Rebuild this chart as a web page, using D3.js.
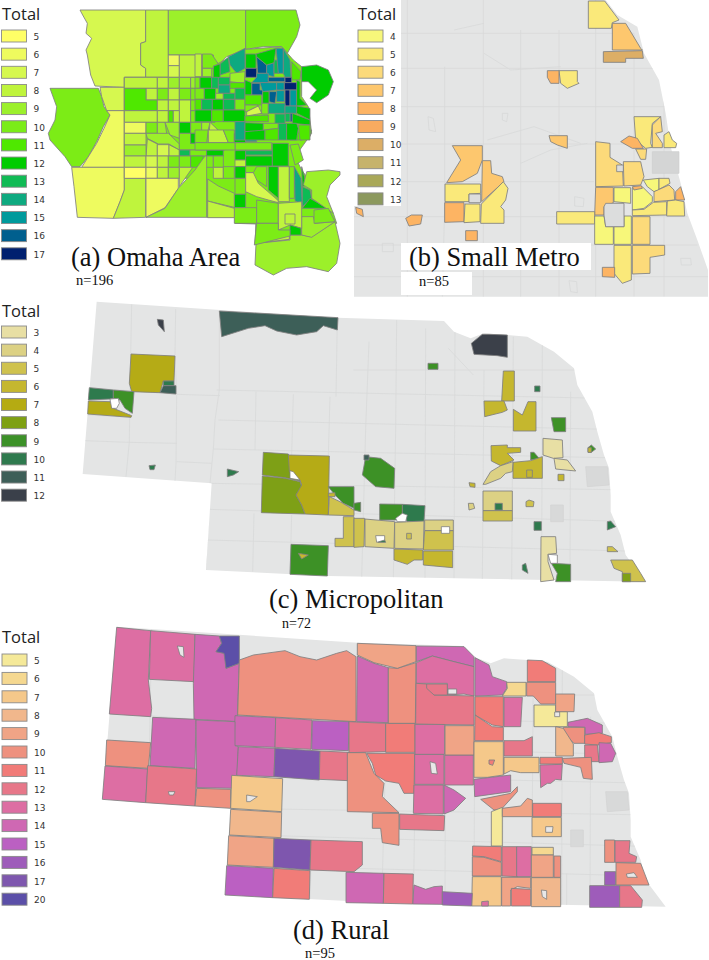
<!DOCTYPE html>
<html><head><meta charset="utf-8">
<script src="https://cdn.jsdelivr.net/npm/d3@7/dist/d3.min.js"></script>
<style>html,body{margin:0;padding:0;background:#fff}svg{display:block}</style>
</head><body><svg id="c" width="709" height="960"></svg>
<script>
// ---------- legend values and colours ----------
const omahaValues=[5,6,7,8,9,10,11,12,13,14,15,16,17];
const omahaColors=["#ffff66","#eefb5e","#d6f84f","#bff43c","#9cf02c","#7bec18","#4fe800","#00cc00","#10bb55","#0eaa80","#009a9c","#005f8e","#00206f"];
const metroValues=[4,5,6,7,8,9,10,11,12,13];
const metroColors=["#f7f77a","#fae97a","#fcda7a","#fdc76e","#fdb464","#f8ab60","#dcae66","#c6b36c","#a9a858","#8c995e"];
const microValues=[3,4,5,6,7,8,9,10,11,12];
const microColors=["#e8dfa4","#dcd184","#cfc24e","#c5b72f","#b5ab12","#7ea012","#3c9128","#2f7a4e","#3e5f58","#3a404a"];
const ruralValues=[5,6,7,8,9,10,11,12,13,14,15,16,17,20];
const ruralColors=["#f5e999","#f5d890","#f5c88a","#f1b78c","#f0a486","#ee917f","#f17b78","#e77789","#dd6ea3","#cf68b3","#bb60c2","#9e5cba","#7e57ae","#5b4fa8"];

// ---------- region tables: [value, outline]; two points mean a box ----------
const omahaOuter=[
[7,"240,30 437,30 437,125 422,130 422,195 437,205 437,232 373,232 373,262 285,258 272,225 262,165 258,150 275,115 258,100 262,70 248,45"],
[8,"437,30 505,30 505,232 437,232 437,205 422,195 422,130 437,125"],
[9,"505,30 737,30 737,148 680,170 655,195 640,200 605,165 505,165"],
[10,"737,30 888,30 900,75 890,110 862,160 845,140 790,140 737,148"],
[10,"150,265 295,265 305,290 312,320 330,345 310,380 290,425 265,470 240,500 215,500 195,470 150,420 145,400 165,360 170,320"],
[7,"300,262 373,262 373,332 320,332 305,290"],
[6,"320,332 373,332 373,502 245,502 290,430 312,385 330,345"],
[6,"215,502 373,502 373,570 360,605 340,655 232,652 222,560"],
[8,"373,535 437,535 437,652 340,655 360,605 373,570"],
[10,"373,232 605,232 605,165 655,190 737,148 845,140 880,180 905,200 905,290 925,320 935,400 885,470 905,510 1000,640 1010,670 935,710 905,705 870,705 868,718 768,730 768,672 705,670 705,652 620,652 620,535 373,535"],
[6,"505,165 538,197"],[7,"505,197 538,232"],[8,"538,165 605,232"],[9,"605,165 640,200"],
[12,"905,200 950,195 985,210 1000,245 985,285 950,308 930,295 950,270 925,245 905,245"],
[9,"768,730 870,720 870,705 905,705 935,710 1005,665 1020,730 1010,790 985,815 920,800 860,805 820,825 765,795"],
[8,"768,672 840,660 840,690 868,695 868,718 765,730"],
[9,"905,650 940,650 945,670 1005,665 935,712 905,705"]];
const omahaWest=[
[8,"28,22 127,55"],[8,"93,55 127,90"],[11,"28,55 93,55 93,90 127,90 127,122 28,122"],
[8,"127,22 160,55"],[9,"160,22 193,55"],[9,"193,22 227,55"],[9,"227,22 255,55"],
[10,"127,55 160,90"],[8,"160,55 193,90"],[10,"193,55 227,90"],[10,"227,55 265,90"],
[8,"127,90 160,122"],[8,"160,90 193,122"],[8,"193,90 227,157"],[10,"227,90 260,122"],[13,"260,90 290,122"],[12,"290,90 325,122"],
[8,"28,122 127,157"],[8,"127,122 160,157"],[11,"160,122 175,157"],[8,"175,122 193,157"],[10,"227,122 260,157"],[10,"260,122 300,157"],
[6,"28,157 93,190"],[10,"93,157 127,190"],[9,"127,157 150,157 155,190 127,195"],[9,"150,157 193,157 193,205 165,195"],[12,"193,157 227,190"],[10,"227,157 260,190"],
[9,"260,157 285,157 270,220 260,220"],[8,"285,157 330,200 330,220 280,220"],
[8,"28,190 93,225"],[9,"93,190 160,190 193,222 193,240 162,222 130,222 97,205"],
[8,"97,207 127,222 127,258 93,258"],[7,"127,224 162,224 162,258 127,258"],[8,"162,224 193,240 193,258 162,258"],
[10,"193,190 227,190 227,220 260,220 260,240 193,240"],[12,"227,190 260,220"],[9,"260,220 330,220 330,240 260,240"],
[9,"28,225 93,258"],[13,"193,240 225,258"],[10,"225,240 275,258"],[12,"275,240 325,258"],
[8,"28,258 93,292"],[7,"93,258 127,292"],[8,"127,258 160,292"],[10,"160,258 193,292"],[10,"193,258 227,292"],[11,"227,258 265,292"],[10,"275,258 295,258 295,292 262,292"],[10,"295,258 325,292"],
[5,"28,292 93,325"],[6,"93,292 127,325"],[8,"127,292 160,325"],[9,"160,292 193,325"],[8,"193,292 233,292 193,350"],[8,"295,292 325,325"],
[6,"93,325 190,325 190,355 150,413 93,442"],
[9,"93,442 150,415 190,355 240,300 270,258 275,258 275,442"]];
const omahaSouth=[
[10,"0,0 40,0 35,38 0,38"],[8,"40,0 85,0 100,38 40,38"],[10,"85,0 118,0 118,38 100,38"],[12,"118,10 152,38"],[14,"152,0 185,35"],
[10,"120,38 230,60"],[10,"0,38 120,60"],[12,"120,62 152,90"],[13,"152,62 232,75"],[12,"152,78 232,108"],[12,"232,40 280,108"],
[11,"285,10 350,0 345,20 320,30 285,30"],[10,"285,45 310,42 325,90 300,105"],
[8,"120,90 152,110"],[12,"120,110 152,145"],[10,"85,110 118,145"],[10,"120,145 152,193"],[12,"118,193 152,233"],[10,"118,233 185,280"],
[10,"185,110 215,110 215,170 152,128 175,128"],[7,"152,128 175,128 190,160 250,212 250,218 220,210 185,200 152,185"],
[12,"220,110 250,110 250,205 220,180"],[8,"250,110 283,215"],[10,"283,110 298,110 298,205 283,205"],[14,"298,110 318,145 322,225 300,212"],
[12,"320,110 335,165 322,170"],[13,"322,170 345,180 350,205 322,230"],[12,"345,205 397,235 322,235"],
[9,"335,125 400,120 435,125 435,135 405,165 395,200 415,250 350,205 350,180 325,165"],[10,"357,240 400,235 420,275 357,280"],
[9,"38,147 70,168 118,190 118,232 38,213"],[8,"38,213 118,235 118,263 38,263"],[10,"185,210 250,220 250,280 185,280"],
[8,"250,220 320,215 320,295 285,285 250,300"],[8,"270,252 300,252 300,282 270,282"],[12,"285,285 318,295 318,315 285,315"],
[10,"185,280 250,280 250,300 285,300 285,318 178,345"]];
const omahaCore=[
[14,"100,50 150,25 150,85 125,100 105,75"],[13,"75,72 100,52 105,95 75,105"],[12,"55,78 75,72 75,125 55,125"],
[10,"22,42 50,42 70,72 55,78 55,85 22,85"],[9,"22,85 50,110"],[8,"0,42 20,110"],
[10,"0,112 15,145"],[12,"15,112 50,145"],[13,"50,112 70,145"],[13,"70,112 105,135"],[14,"70,135 105,160"],[9,"105,100 150,95 148,130 105,125"],[11,"105,128 150,145"],
[10,"0,145 28,178"],[12,"28,145 62,178"],[9,"62,160 85,178"],[13,"85,160 120,178"],[13,"120,145 150,178"],
[11,"0,178 20,210"],[13,"20,178 52,210"],[12,"52,178 85,210"],[13,"85,178 120,210"],[10,"120,178 150,210"],
[12,"0,210 50,245"],[11,"50,210 85,245"],[12,"85,210 150,245"],
[12,"152,42 183,85"],[17,"152,85 185,112"],[16,"185,50 215,75 215,100 188,100"],[15,"215,75 237,68 237,110 215,105"],[13,"237,60 250,100"],[15,"243,25 265,25 265,100 250,100"],
[12,"183,42 243,25 237,68 215,75 185,50"],[14,"265,25 285,60 288,112 270,112 265,100"],[11,"290,65 318,95 315,120 290,120"],
[15,"185,100 220,100 220,128 170,128 185,112"],[16,"220,112 270,125"],[17,"270,112 290,128"],
[16,"170,130 195,130 195,150 203,150 203,165 170,165"],[15,"195,128 245,128 245,150 203,155"],[15,"245,128 268,150"],
[17,"268,128 310,150"],[17,"270,150 285,198"],[15,"285,150 305,198"],[12,"305,120 315,125 315,175 335,195 305,198"],
[16,"222,155 245,155 240,190 222,185"],[15,"245,152 268,185"],[12,"203,155 222,190"],
[12,"150,120 170,128 170,165 150,165"],[11,"150,165 200,195"],[10,"150,195 185,195 190,198 155,215 150,215"],[7,"155,215 190,198 200,220 155,228"],
[10,"200,190 220,222"],[14,"220,190 270,220"],[14,"270,198 305,220"],[12,"305,198 345,205 345,240 305,220"],
[16,"285,220 292,245"],[11,"150,228 220,225 220,245 150,245"],[13,"270,220 285,245"],[13,"240,222 270,250"],[12,"292,220 345,240 345,255 292,250"],
[14,"120,245 150,300"],[12,"150,248 205,250 205,275 150,275"],[10,"205,250 250,250 250,265 205,270"],[13,"250,250 275,300"],[12,"275,250 305,250 310,265 305,300 275,300"],[11,"310,255 345,255 345,300 315,300"],
[12,"150,275 210,270 210,300 150,300"],[11,"210,270 250,265 250,300 210,300"]];

const metroRegions=[
[5,"703,3 752,3 795,60 775,68 772,85 703,85"],[7,"775,70 815,70 860,145 865,150 775,150"],[10,"748,155 865,152 868,175 815,175 815,187 748,187"],
[5,"615,212 670,212 670,245 675,250 640,265 620,250"],[8,"580,212 615,212 615,250 590,250 580,232"],[7,"585,407 640,407 640,445 610,435 590,425"],
[7,"295,437 385,437 385,480 370,520 325,545 278,548 320,480"],[7,"385,482 410,482 413,520 445,530 450,545 383,605"],
[5,"273,552 380,552 380,580 345,582 345,605 273,605"],[8,"272,608 330,608 330,665 272,667"],[5,"333,612 378,612 378,665 330,668"],
[5,"382,612 448,545 462,565 455,600 440,620 450,630 450,670 380,670"],[8,"155,655 172,645 205,645 200,672 165,678"],[8,"335,692 370,722"],[8,"5,622 25,628 28,650 8,640"],
[6,"725,425 768,430 768,472 805,495 808,558 725,560"],[6,"808,485 860,485 870,530 860,555 810,558"],
[7,"725,562 778,562 778,608 750,620 750,645 722,645"],[4,"780,563 830,563 830,610 780,605"],
[4,"835,563 865,560 895,590 895,605 870,625 835,630"],[4,"868,540 915,535 915,570 900,575 880,560"],[5,"915,535 945,535 948,550 915,568"],
[6,"900,575 945,555 960,570 962,600 900,605"],[8,"965,575 980,560 992,600 965,600"],[5,"835,630 870,628 898,607 938,605 938,645 835,647"],[5,"940,603 965,600 990,605 992,648 938,648"],
[5,"608,635 722,672"],[4,"722,648 750,648 755,680 778,680 778,733 722,733"],[4,"780,680 810,680 810,648 832,648 832,733 780,733"],[6,"835,650 888,650 888,733 835,733"],
[5,"780,736 832,736 832,840 805,850 780,820"],[6,"835,736 932,736 932,765 888,772 888,820 835,822"],[8,"745,802 782,802 782,832 745,830"],
[5,"840,350 920,350 895,370 890,430 895,442 875,445 845,420"],[6,"895,375 920,350 925,395 905,400 925,430 925,443 895,443"],[5,"930,405 945,395 955,420 968,430 965,443 930,443"],
[8,"800,425 825,408 850,415 868,445 835,445"],[6,"845,447 878,447 875,478 860,478"],[8,"835,560 862,557 865,565 840,570"]];
const metroHoles=["755,610 810,610 810,648 810,680 755,680 750,645 750,620","788,495 808,495 808,515 788,515","345,582 380,582 380,608 345,608"];

const microWest=[
[11,"658,48 1014,68 1012,105 970,92 950,110 890,120 830,108 795,92 745,100 665,125"],[12,"472,73 490,75 493,110 484,100 475,90"],
[7,"393,177 525,183 522,258 490,258 480,293 395,290 388,265"],[10,"490,258 522,258 522,272 490,272"],[11,"490,272 528,272 528,297 480,293"],
[10,"268,278 340,285 340,310 330,312 265,315"],[9,"340,285 402,290 397,355 375,340 360,315 340,310"],[7,"265,318 330,320 340,340 395,362 393,367 263,357"],
[10,"447,512 466,510 462,524 450,524"],[10,"682,522 716,530 700,540 682,545"],
[8,"790,472 865,477 880,525 900,558 855,548 787,540"],[8,"787,543 855,550 900,560 905,575 888,600 905,630 915,657 784,653"],
[7,"865,480 988,483 985,660 915,657 905,630 888,600 905,570 900,555 868,530"],
[9,"985,575 1062,575 1062,640 1030,625 1005,600"],[6,"985,595 1005,593 1005,605 985,605"],[5,"988,605 1020,620 1062,645 1062,662 985,660"],
[5,"1030,665 1062,665 1062,755 1005,755 1005,730 1030,730"],[9,"873,748 985,752 982,843 870,838"],[6,"895,775 925,780 905,792"]];
const microEast=[
[12,"352,145 385,118 405,118 460,120 460,187 430,182 360,178"],[9,"222,205 252,223"],[6,"448,228 481,228 481,318 443,318"],[10,"542,273 558,290"],
[6,"390,318 450,318 460,345 445,352 392,365"],[6,"478,343 505,360 522,320 546,320 546,408 478,408"],[9,"592,368 635,368 635,410 600,410"],
[3,"567,430 625,435 627,488 598,490 567,480"],[3,"600,490 640,495 665,528 605,522"],[9,"702,458 712,450 725,462 712,472 702,472"],[6,"702,458 712,458 712,472 702,472"],
[6,"411,452 460,450 460,458 500,458 500,472 460,475 480,495 440,512 412,498"],[9,"530,472 540,472 555,490 530,495"],[6,"477,502 530,497 565,485 565,550 477,550"],
[4,"387,568 410,530 440,512 477,500 475,530 455,535 440,550 395,568"],[6,"518,525 535,547"],[6,"612,538 630,557"],[6,"345,563 363,565 363,577 348,575"],[4,"343,625 358,625 362,640 345,645"],
[4,"387,588 475,647"],[5,"387,647 475,678"],[10,"423,625 445,645"],[5,"516,620 525,615 540,620 538,635 516,635"],[10,"540,680 562,706"],[10,"760,680 770,678 785,695 760,705"],
[9,"25,540 35,485 80,490 122,520 120,580 65,575"],[11,"30,480 45,495"],[10,"145,628 213,632 210,680 160,680 145,655"],[9,"77,627 145,628 145,655 125,675 77,675"],[9,"0,625 20,622 20,650 0,645"],
[5,"0,670 32,670 30,755 0,757"],[4,"33,672 122,680 120,760 33,755"],[4,"122,682 210,678 208,762 122,760"],[4,"212,675 298,707"],[5,"212,707 298,707 298,765 208,765"],
[6,"120,762 206,765 206,795 180,795 160,808 120,795"],[6,"208,768 296,768 296,818 208,810"],[5,"158,715 172,732"],[10,"78,735 92,735 95,742 72,742"],
[3,"561,725 605,725 608,775 582,778 582,800 600,855 560,860"],[9,"592,805 650,808 650,860 605,860 610,835"],[10,"505,810 515,805 522,835 505,825"],
[5,"760,755 775,755 792,770 760,770"],[5,"770,795 835,795 860,835 875,860 805,860 805,830 780,820"],[8,"805,835 830,835 830,860 805,860"]];
const microHolesWest=["330,312 355,310 358,325 350,340 335,340","870,527 880,530 900,555 870,550"];
const microHolesEast=["125,670 145,655 160,660 155,680 130,680","262,695 287,715","65,722 92,722 92,735 68,742","582,778 610,780 610,805 590,805"];

const ruralWest=[
[13,"350,22 452,32 445,180 455,265 452,290 328,282"],[13,"452,32 585,43 582,185 448,178"],
[14,"585,43 658,48 665,70 648,95 675,100 678,145 718,130 712,290 718,305 582,298 580,190"],[20,"658,48 718,48 718,130 678,145 672,100 648,95 665,70"],
[10,"718,120 760,105 855,92 900,110 950,120 1010,100 1040,92 1068,110 1068,305 713,285"],
[14,"705,287 827,293 825,382 702,377"],[13,"827,293 936,300 933,388 825,382"],[15,"937,302 1047,305 1045,392 935,388"],
[14,"458,292 588,298 585,445 450,437"],[14,"588,300 705,305 705,377 715,380 710,505 590,503"],[10,"320,360 452,368 445,445 316,437"],
[13,"315,438 443,447 437,548 307,538"],[12,"443,437 590,447 585,558 437,548"],[10,"590,505 692,508 692,565 585,558"],
[14,"715,380 825,385 822,470 710,466"],[17,"825,385 960,393 958,480 822,470"],[12,"960,393 1047,397 1045,482 958,478"],
[7,"695,466 848,476 845,575 692,565"],[8,"692,568 845,577 843,653 688,645"],[9,"686,647 822,655 820,742 682,735"],[17,"822,655 933,660 930,750 820,742"],
[12,"933,660 1087,665 1087,735 1062,755 930,750"],[15,"680,737 820,745 818,833 675,825"],[11,"822,745 930,752 928,838 818,833"]];
const ruralEast=[
[12,"-15,305 95,310 95,395 -15,398"],[14,"-24,757 90,760 88,850 -24,848"],
[10,"-20,398 35,398 60,460 90,490 85,530 135,578 -20,575"],[11,"38,400 182,400 180,520 150,520 135,490 95,483 65,465 55,430"],
[13,"182,403 270,493"],[13,"180,495 268,495 268,582 178,580"],[14,"270,495 300,510 335,535 300,570 270,582"],[13,"272,405 358,495"],[11,"95,310 183,397"],[13,"183,313 272,403"],[9,"273,317 360,405"],
[14,"10,108 60,130 103,143 103,308 8,305"],[10,"103,143 130,145 186,128 184,310 103,310"],[9,"10,70 186,77 186,125 130,145 60,128 10,105"],
[14,"187,78 330,80 360,110 360,140 300,125 235,108 187,125"],[13,"187,128 235,108 300,125 360,140 360,228 330,222 280,225 280,190 187,190"],
[12,"186,190 218,192 240,225 360,228 360,315 185,312"],[12,"218,192 280,192 280,225 240,225 218,205"],
[14,"363,113 405,135 415,170 458,185 458,205 445,225 363,228"],[6,"458,187 516,187 516,228 445,228 460,205"],[11,"520,120 565,122 605,145 605,185 520,185"],[10,"518,187 605,187 605,252 560,252 538,228 518,228"],
[11,"363,230 448,230 448,320 415,315 363,285"],[11,"363,285 415,320 448,322 448,362 362,362"],[13,"450,232 505,232 500,320 450,320"],[5,"540,255 605,255 605,275 640,275 640,320 540,320"],
[9,"605,222 662,222 660,275 605,275"],[14,"642,307 700,295 745,315 745,340 693,343 693,322 642,320"],[10,"628,322 692,322 692,370 660,370 628,340"],[8,"605,320 628,325 658,372 658,408 605,408"],
[11,"692,345 735,338 772,350 772,368 730,375 692,372"],[12,"692,375 730,375 735,425 692,425"],[14,"735,368 770,370 785,400 775,425 735,428"],[12,"450,362 510,362 535,350 535,408 450,408"],
[7,"360,365 448,365 448,465 400,472 360,472"],[11,"405,420 422,420 416,436 405,432"],[7,"450,412 555,412 555,458 500,458 470,452 450,462"],[11,"558,412 625,432"],[10,"625,415 712,412 715,478 688,475 680,442 630,430"],
[13,"558,435 625,433 622,480 605,478 590,490 580,490 560,503"],[14,"360,478 470,465 470,515 362,530"],[10,"380,538 470,520 490,500 490,515 440,570 420,570"],[5,"412,575 445,562 445,678 412,678"],
[9,"445,565 500,558 520,535 535,540 535,590 445,590"],[11,"536,550 622,590"],[7,"534,592 622,650"],[10,"55,580 135,580 135,676 85,668 80,625 55,625"],[12,"137,582 272,587 270,632 137,628"],
[11,"356,678 442,680 442,725 390,710 355,708"],[10,"355,710 390,712 442,727 442,768 355,768"],[12,"444,680 488,680 490,770 444,768"],[13,"488,680 532,770"],[6,"534,682 598,705"],[9,"532,705 598,772"],[10,"600,708 620,772"],
[7,"355,770 442,770 442,858 353,858"],[9,"443,772 530,772 530,805 490,800 470,810 470,858 443,858"],[11,"472,805 530,808 530,858 472,858"],[8,"532,773 620,860"],
[14,"180,795 215,808 240,800 265,798 265,853 176,852"],[16,"265,815 355,820 353,858 265,855"],[12,"90,760 178,762 176,852 88,850"],[13,"383,845 403,843 403,858 383,858"],
[16,"707,797 797,862"],[16,"752,755 785,795"],[10,"786,728 860,730 885,795 786,795"],[12,"797,797 830,797 865,840 863,862 797,862"],[10,"752,660 782,727"],[12,"783,662 828,662 825,700 848,710 845,727 783,727"]];
const ruralHolesWest=["532,78 550,80 552,112 540,105","505,515 525,515 520,525 508,525","740,525 772,530 750,545 740,545"];
const ruralHolesEast=["282,207 308,222","602,276 617,290","817,762 840,758 850,772 820,772","575,620 597,620 595,637 575,637","562,810 578,812 578,838 565,830","228,425 245,430 250,462 232,460"];

// ---------- base map outlines and county lines ----------
const stateOutline="290,20 1012,68 1332,78 1362,110 1412,130 1452,115 1522,120 1582,125 1662,170 1722,220 1732,270 1777,350 1792,410 1812,480 1827,520 1832,600 1832,650 1862,720 1877,780 1937,860 984,843 618,825 635,565 248,537";
const stateCounties=["395,28 390,285 388,440 378,545","527,42 525,180 530,300 528,505 525,558","658,48 658,285 645,375 640,462 630,565 617,825","270,278 530,298 660,302","262,360 395,367","255,437 385,442 530,445","530,500 635,505","650,285 1900,312","655,375 1900,405","768,290 765,465","880,298 875,480","990,305 985,480","1012,68 1008,305","640,462 1900,490","630,565 1900,585","625,643 1900,680","620,735 1950,770","762,655 758,830","875,660 870,838","1107,140 1097,400 1085,850","1190,75 1187,400 1180,850","1277,100 1275,850","1365,110 1362,850","1452,225 1447,860","1540,125 1535,860","1627,150 1625,860","1712,290 1710,860","1060,225 1790,225","1640,760 1640,860","1345,160 1420,240"];
const stateCitiesEast=["695,515 760,515 765,570 700,575","590,630 628,630 628,680 590,680"];
const metroGround="0,0 755,0 790,45 850,80 870,160 915,240 935,340 950,440 980,550 1000,640 1030,720 1062,810 1062,890 0,890";
const metroCounties=["160,0 160,890","272,200 272,620 265,890","388,0 388,890","500,90 500,890","615,90 615,890","725,0 725,890","840,100 840,890","930,300 930,890","0,205 920,205","0,320 935,320","0,432 950,432","0,545 720,545","0,650 1000,650","0,735 1030,735","0,830 1062,830","0,100 840,100","300,90 390,70","390,160 470,210 620,200","400,420 540,380 680,430","500,490 590,450 700,430"];
const metroCities=["895,455 975,455 975,520 895,520"];
const metroTowns=["222,350 238,355 245,395 225,390","445,340 462,340 458,365 445,360","662,590 690,595 688,620 662,618","85,730 118,730 118,755 85,755","645,842 668,845 670,878 650,875","980,775 1010,775 1012,795 982,795"];

// ---------- drawing ----------
const svg=d3.select("#c");
const defs=svg.append("defs");
defs.append("filter").attr("id","soft").append("feGaussianBlur").attr("stdDeviation",0.35);
const parse=s=>{
  const p=s.trim().split(/\s+/).map(q=>q.split(",").map(Number));
  if(p.length===2){const [[a,b],[c,d]]=p;return [[a,b],[c,b],[c,d],[a,d]];}
  return p;
};
const layerPath=(ox,oy)=>{
  const x=d3.scaleLinear().domain([0,3]).range([ox,ox+1]);
  const y=d3.scaleLinear().domain([0,3]).range([oy,oy+1]);
  return d3.line().x(d=>x(d[0])).y(d=>y(d[1]));
};
const closed=(line,s)=>line(parse(s))+"Z";
const open=(line,s)=>line(s.trim().split(/\s+/).map(q=>q.split(",").map(Number)));
const maps=svg.append("g").attr("filter","url(#soft)");

function regions(rows,color,ox,oy){
  const line=layerPath(ox,oy);
  maps.append("g").selectAll("path").data(rows).join("path")
    .attr("d",d=>closed(line,d[1])).attr("fill",d=>color(d[0]))
    .attr("stroke","#808080").attr("stroke-width",0.85).attr("stroke-linejoin","round");
}
function holes(rows,fill,ox,oy){
  const line=layerPath(ox,oy);
  maps.append("g").selectAll("path").data(rows).join("path")
    .attr("d",d=>closed(line,d)).attr("fill",fill).attr("stroke","#7f7f7f").attr("stroke-width",0.8);
}
function ground(id,outline,lines,ox,oy){
  const line=layerPath(ox,oy);
  defs.append("clipPath").attr("id",id).append("path").attr("d",closed(line,outline));
  maps.append("path").attr("d",closed(line,outline)).attr("fill","#e4e5e5");
  maps.append("g").attr("clip-path",`url(#${id})`).selectAll("path").data(lines).join("path").attr("d",d=>open(line,d))
    .attr("fill","none").attr("stroke","#d8d9d9").attr("stroke-width",0.8);
}
function patches(rows,ox,oy,fill,stroke){
  const line=layerPath(ox,oy);
  maps.append("g").selectAll("path").data(rows).join("path").attr("d",d=>closed(line,d)).attr("fill",fill).attr("stroke",stroke).attr("stroke-width",0.7);
}
const scaleOf=(v,c)=>d3.scaleOrdinal().domain(v).range(c);
const cA=scaleOf(omahaValues,omahaColors),cB=scaleOf(metroValues,metroColors),cC=scaleOf(microValues,microColors),cD=scaleOf(ruralValues,ruralColors);

// (b) ground first, so the white label boxes sit on it
ground("gb",metroGround,metroCounties,354,0);
patches(metroCities,354,0,"#d4d5d5","#cfd0d0");
patches(metroTowns,354,0,"none","#d6d7d7");
regions(metroRegions,cB,354,0);
holes(metroHoles,"#dcdddd",354,0);
maps.append("rect").attr("x",354).attr("y",0).attr("width",47).attr("height",206).attr("fill","#fff");
maps.append("rect").attr("x",401).attr("y",243).attr("width",190).attr("height",27).attr("fill","#fff");
maps.append("rect").attr("x",401).attr("y",272).attr("width",71).attr("height",23).attr("fill","#fff");
// (a)
regions(omahaOuter,cA,0,0);
regions(omahaWest,cA,115,70);
regions(omahaSouth,cA,195,130);
regions(omahaCore,cA,195,40);
// (c)
ground("gc",stateOutline,stateCounties,0,295);
patches(stateCitiesEast,354,295,"#d8d9d9","#d2d3d3");
regions(microWest,cC,0,295);regions(microEast,cC,354,295);
holes(microHolesWest,"#fff",0,295);holes(microHolesEast,"#fff",354,295);
// (d)
ground("gd",stateOutline,stateCounties,20,620);
patches(stateCitiesEast,374,620,"#d8d9d9","#d2d3d3");
regions(ruralWest,cD,0,620);regions(ruralEast,cD,354,620);
holes(ruralHolesWest,"#e8e8e8",0,620);holes(ruralHolesEast,"#e8e8e8",354,620);

// legends
function legend(values,color,x,y0,step,tx,ty){
  svg.append("text").text("Total").attr("x",tx).attr("y",ty).attr("font-family","'Open Sans'").attr("font-size",16.5).attr("fill","#222");
  const g=svg.append("g").selectAll("g").data(values).join("g").attr("transform",(d,i)=>`translate(${x},${y0+i*step})`);
  g.append("rect").attr("width",25).attr("height",12).attr("fill",d=>color(d)).attr("stroke","#8a8a8a").attr("stroke-width",0.9);
  g.append("text").text(d=>d).attr("x",32).attr("y",9.8).attr("font-family","'DejaVu Sans'").attr("font-size",9).attr("fill","#333");
}
legend(omahaValues,cA,1.5,30,18.15,2,20);
legend(metroValues,cB,358,30,18.1,358,19.5);
legend(microValues,cC,1.5,326,18.13,2,317);
legend(ruralValues,cD,2,654,18.4,2,643);

// captions
const captions=[["(a) Omaha Area",71,266,26.5],["n=196",76,285,14.5],["(b) Small Metro",409,266,26.5],["n=85",419,286,14.5],["(c) Micropolitan",269,608,26.5],["n=72",282,627.5,14],["(d) Rural",293,939,26.5],["n=95",305,958,14.5]];
svg.append("g").selectAll("text").data(captions).join("text").text(d=>d[0]).attr("x",d=>d[1]).attr("y",d=>d[2]).attr("font-size",d=>d[3])
  .attr("font-family","'Liberation Serif'").attr("fill","#111");
</script></body></html>
